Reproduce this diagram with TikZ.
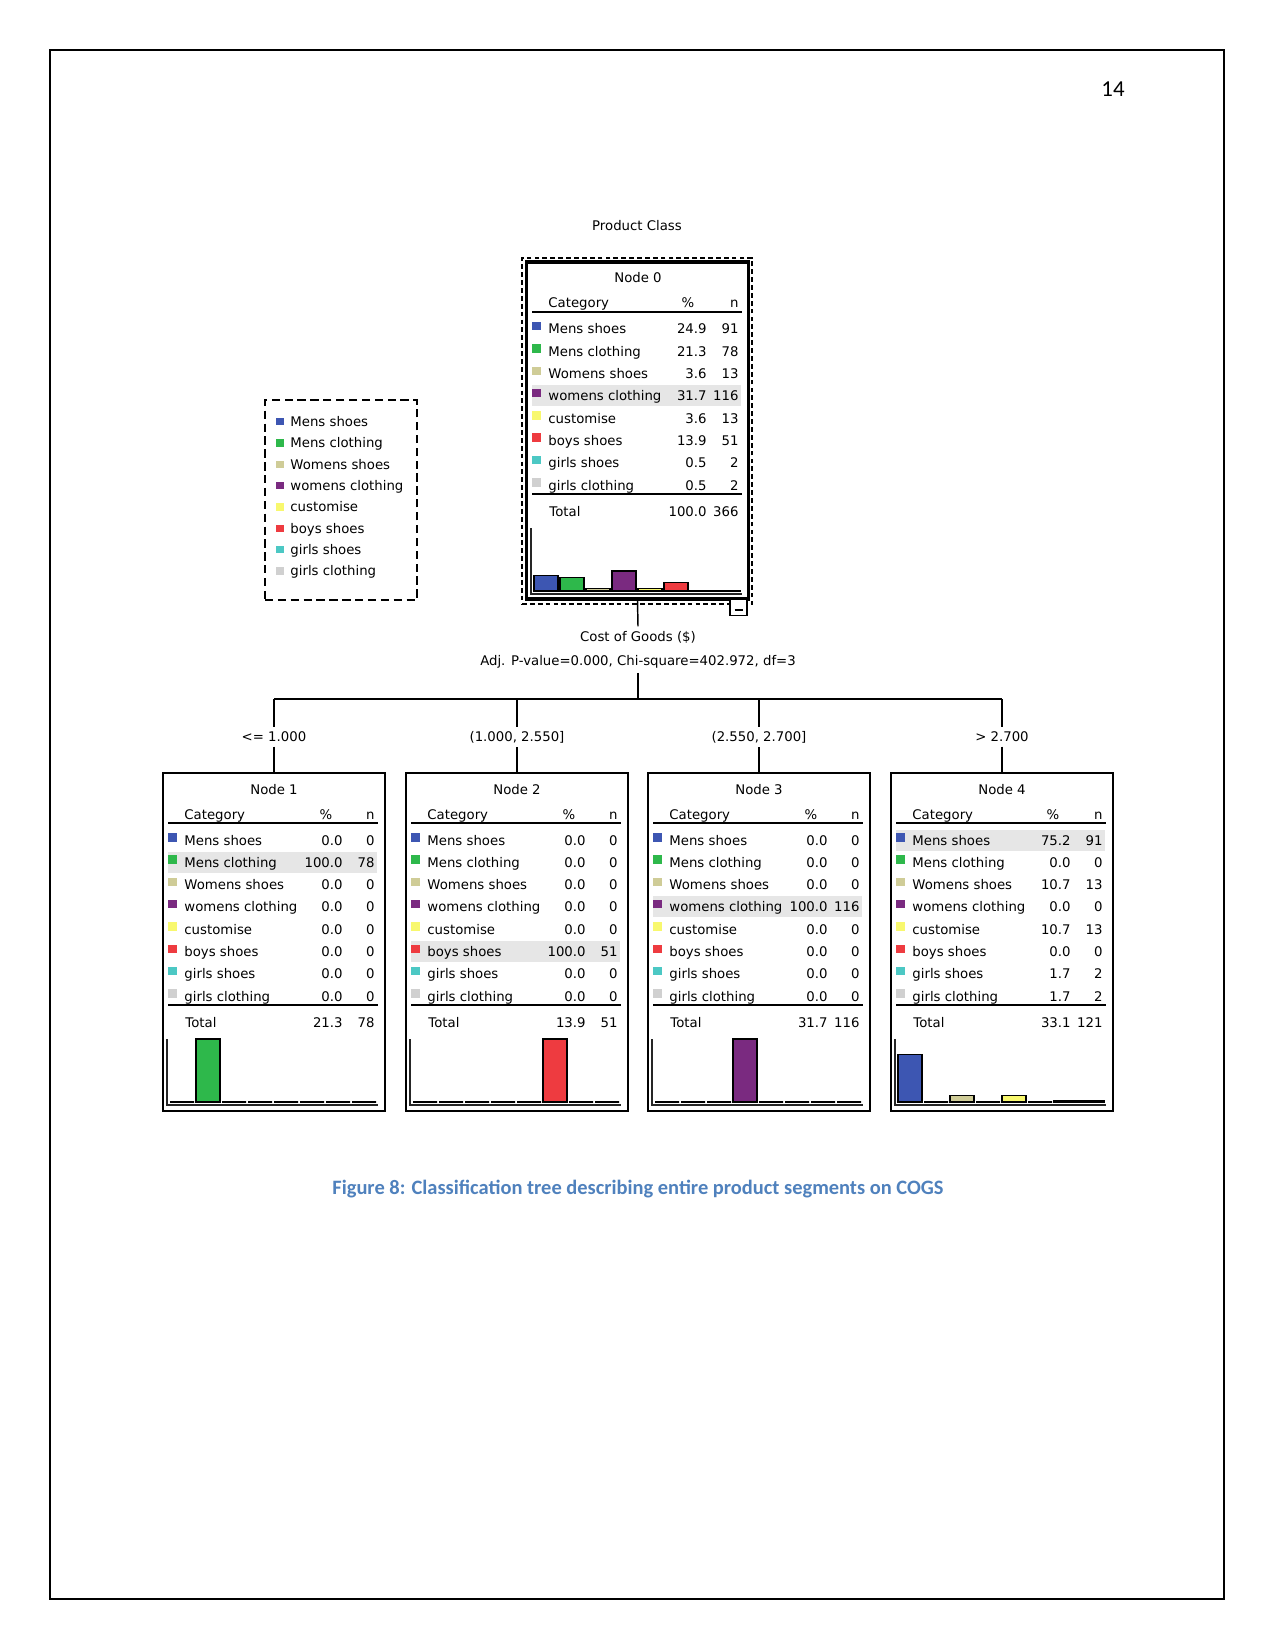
\documentclass[tikz,border=0pt]{standalone}
\usepackage{fontspec}
\setmainfont{DejaVu Sans}
\newfontfamily\capfont{Carlito}
\definecolor{c1}{HTML}{3D56B2}
\definecolor{c2}{HTML}{2EB84B}
\definecolor{c3}{HTML}{CFCC97}
\definecolor{c4}{HTML}{7A2A80}
\definecolor{c5}{HTML}{F8F86E}
\definecolor{c6}{HTML}{EE3B40}
\definecolor{c7}{HTML}{4CC8C4}
\definecolor{c8}{HTML}{D0D0D0}
\definecolor{hlgray}{HTML}{E6E6E6}
\definecolor{capblue}{HTML}{4F81BD}
\newcommand\catlab[1]{\ifcase#1\or Mens shoes\or Mens clothing\or Womens shoes\or womens clothing\or customise\or boys shoes\or girls shoes\or girls clothing\fi}
\def\U{0.4818pt}
\tikzset{
  txt/.style={font=\fontsize{6.4}{7.7}\selectfont, inner sep=0pt},
  splitlbl/.style={font=\fontsize{6.4}{7.7}\selectfont, inner sep=2pt},
  conn/.style={line width=0.7pt},
  rule/.style={line width=0.75pt},
  axis/.style={line width=0.55pt, black!85},
  barbox/.style={draw=black, line width=0.6pt},
  childbox/.style={draw, line width=0.75pt, minimum width={222*\U}, minimum height={338*\U}, inner sep=0pt},
  rootbox/.style={draw, line width=1.7pt, minimum width={222*\U}, minimum height={337*\U}, inner sep=0pt},
  rootdash/.style={draw, line width=0.65pt, dash pattern=on 2.3pt off 1.5pt, minimum width={230*\U}, minimum height={346*\U}, inner sep=0pt},
  legendbox/.style={draw, line width=0.7pt, dash pattern=on 4pt off 2.2pt, minimum width={152*\U}, minimum height={200*\U}, inner sep=0pt},
  togglebox/.style={draw, line width=0.6pt, minimum width={17*\U}, minimum height={16*\U}, inner sep=0pt, fill=white},
}
% #1 prefix, #2 cx, #3 top, #4 title, #5 % header offset, #6 highlight row, #7 data, #8 total pct, #9 total n
\newcommand\treebody[9]{%
  \pgfmathsetmacro\hy{#3+67+(#6-1)*22.3}
  \fill[hlgray] (#2-106,\hy-10.5) rectangle (#2+103,\hy+10.5);
  \node[txt,anchor=base] (#1title) at (#2,#3+21) {#4};
  \node[txt,anchor=base west] (#1cat) at (#2-90,#3+46) {Category};
  \node[txt,anchor=base] (#1pct) at (#2+#5,#3+46) {\%};
  \node[txt,anchor=base east] (#1n) at (#2+101,#3+46) {n};
  \draw[rule] (#2-106,#3+50) -- (#2+104,#3+50);
  \foreach \p/\n [count=\i] in {#7} {
    \pgfmathsetmacro\ry{#3+67+(\i-1)*22.3}
    \fill[c\i] (#2-106,\ry-7) rectangle (#2-97.5,\ry+1.5);
    \node[txt,anchor=base west] (#1l\i) at (#2-90,\ry+5) {\catlab{\i}};
    \node[txt,anchor=base east] (#1p\i) at (#2+69,\ry+5) {\p};
    \node[txt,anchor=base east] (#1c\i) at (#2+101,\ry+5) {\n};
    \pgfmathsetmacro\bx{#2-104+(\i-1)*26}
    \pgfmathsetmacro\bh{\p*0.63}
    \filldraw[barbox, fill=c\i] (\bx,#3+329) rectangle (\bx+24,#3+329-\bh);
  }
  \draw[rule] (#2-106,#3+232) -- (#2+104,#3+232);
  \node[txt,anchor=base west] (#1tot) at (#2-89,#3+254) {Total};
  \node[txt,anchor=base east] (#1totp) at (#2+69,#3+254) {#8};
  \node[txt,anchor=base east] (#1totn) at (#2+101,#3+254) {#9};
  \draw[axis] (#2-107,#3+266) -- (#2-107,#3+332) -- (#2+104,#3+332);
}
\begin{document}
\begin{tikzpicture}[x=0.4818pt, y=-0.4818pt]
\useasboundingbox (0,0) rectangle (1275,1650);
\fill[white] (0,0) rectangle (1275,1650);
% page frame and number
\draw[line width=1pt] (50,50) rectangle (1224,1599);
\node[font=\capfont\fontsize{11}{13}\selectfont, inner sep=0pt] (pagenum) at (1113,89) {14};

% title
\node[txt] (ptitle) at (637,226) {Product Class};

% legend
\node[legendbox] (legend) at (341,500) {};
\foreach \i in {1,...,8} {
  \pgfmathsetmacro\ly{421.5+(\i-1)*21.3}
  \fill[c\i] (276,\ly-3.5) rectangle (283.5,\ly+4);
  \node[txt,anchor=base west] (leg\i) at (290,\ly+5) {\catlab{\i}};
}

% root node
\node[rootdash] (n0d) at (637,431) {};
\node[rootbox] (n0) at (637.5,430.5) {};
\treebody{a}{638}{262}{Node 0}{50}{4}{24.9/91,21.3/78,3.6/13,31.7/116,3.6/13,13.9/51,0.5/2,0.5/2}{100.0}{366}
\node[togglebox] (tog) at (738.5,607.5) {};
\draw[line width=0.7pt] (734.5,610) -- (742.5,610);

% split labels
\node[splitlbl] (split) at (638,637) {Cost of Goods (\$)};
\node[splitlbl] (splitstat) at (638,662) {Adj. P-value=0.000, Chi-square=402.972, df=3};
\coordinate (bar) at (638,699);

% child nodes
\node[childbox] (n1) at (274,942) {};
\node[childbox] (n2) at (517,942) {};
\node[childbox] (n3) at (759,942) {};
\node[childbox] (n4) at (1002,942) {};
\treebody{b}{274}{773}{Node 1}{52}{2}{0.0/0,100.0/78,0.0/0,0.0/0,0.0/0,0.0/0,0.0/0,0.0/0}{21.3}{78}
\treebody{c}{517}{773}{Node 2}{52}{6}{0.0/0,0.0/0,0.0/0,0.0/0,0.0/0,100.0/51,0.0/0,0.0/0}{13.9}{51}
\treebody{d}{759}{773}{Node 3}{52}{4}{0.0/0,0.0/0,0.0/0,100.0/116,0.0/0,0.0/0,0.0/0,0.0/0}{31.7}{116}
\treebody{e}{1002}{773}{Node 4}{51}{1}{75.2/91,0.0/0,10.7/13,0.0/0,10.7/13,0.0/0,1.7/2,1.7/2}{33.1}{121}

% branch labels
\node[splitlbl] (s1) at (274,737) {<= 1.000};
\node[splitlbl] (s2) at (517,737) {(1.000, 2.550]};
\node[splitlbl] (s3) at (759,737) {(2.550, 2.700]};
\node[splitlbl] (s4) at (1002,737) {> 2.700};

% connectors
\draw[conn] (n0.south) -- (split.north);
\draw[conn] (splitstat.south) -- (bar);
\draw[conn] (n1.north |- bar) -- (n4.north |- bar);
\foreach \k in {1,2,3,4} {
  \draw[conn] (n\k.north |- bar) -- (s\k.north);
  \draw[conn] (s\k.south) -- (n\k.north);
}

% caption
\node[font=\capfont\bfseries\fontsize{9.85}{12}\selectfont, text=capblue, inner sep=0pt] (caption) at (638,1189) {Figure 8: Classification tree describing entire product segments on COGS};
\end{tikzpicture}
\end{document}
